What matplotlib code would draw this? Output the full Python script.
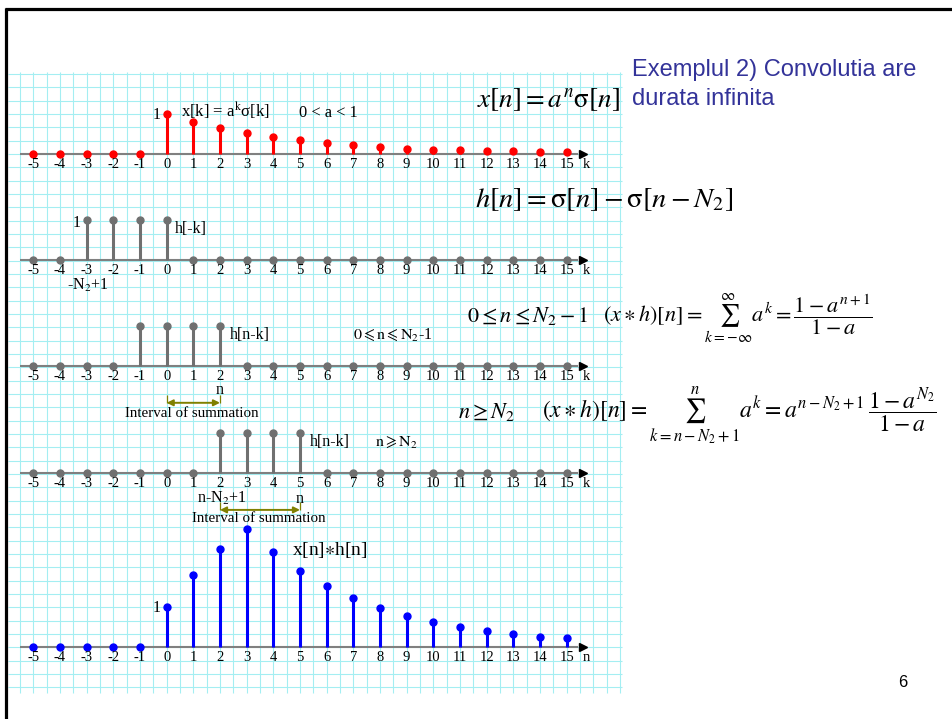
"""Slide: convolution of a^n sigma[n] with a rectangular pulse."""

import numpy as np
import matplotlib
matplotlib.use("Agg")
import matplotlib.pyplot as plt

plt.rcParams["mathtext.fontset"] = "stix"

W, H = 953, 719

# data -----------------------------------------------------------------
K = np.arange(-5, 16)
x_vals = [0, 0, 0, 0, 0, 1.0, 0.8, 0.65, 0.52, 0.42, 0.34, 0.28, 0.22,
          0.17, 0.13, 0.11, 0.09, 0.08, 0.07, 0.05, 0.05]
h_rev = [0, 0, 1, 1, 1, 1, 0, 0, 0, 0, 0, 0, 0, 0, 0, 0, 0, 0, 0, 0, 0]
h_n1 = [0, 0, 0, 0, 1, 1, 1, 1, 0, 0, 0, 0, 0, 0, 0, 0, 0, 0, 0, 0, 0]
h_n2 = [0, 0, 0, 0, 0, 0, 0, 1, 1, 1, 1, 0, 0, 0, 0, 0, 0, 0, 0, 0, 0]
y_vals = [0, 0, 0, 0, 0, 1.0, 1.8, 2.44, 2.95, 2.36, 1.89, 1.51, 1.21,
          0.96, 0.77, 0.63, 0.5, 0.4, 0.32, 0.25, 0.22]
tick_labels = [str(k) for k in K]

RED = "#ff0000"
GRAY = "#707070"
BLUE = "#0000ff"
OLIVE = "#808000"
GRID = "#a4eef2"
SERIF = "Liberation Serif"
SANS = "Liberation Sans"

fig = plt.figure(figsize=(W / 100, H / 100), dpi=100)
fig.patch.set_facecolor("white")


def fx(x):
    return x / W


def fy(y):
    return 1 - y / H


def put(x, y, s, **kw):
    kw.setdefault("family", SERIF)
    kw.setdefault("fontsize", 11.5)
    kw.setdefault("va", "baseline")
    fig.text(fx(x), fy(y), s, **kw)


# background grid + slide frame
bg = fig.add_axes([0, 0, 1, 1])
bg.set_xlim(0, W)
bg.set_ylim(H, 0)
bg.axis("off")
cell = 40 / 3
bg.vlines(20 + cell * np.arange(46), 72, 693, color=GRID, lw=0.8)
bg.hlines(74 + cell * np.arange(47), 8, 622, color=GRID, lw=0.8)
bg.plot([6.5, 6.5], [7.5, H], color="black", lw=2.3, solid_capstyle="butt")
bg.plot([5, W], [9, 9], color="black", lw=2.3, solid_capstyle="butt")


def panel(y0, vals, color, last="k"):
    ax = fig.add_axes([fx(20), fy(y0 + 40), 600 / W, 200 / H])
    ax.set_xlim(-5.5, 17.0)
    ax.set_ylim(-1, 4)
    ax.axis("off")
    ax.patch.set_alpha(0)
    ax.plot([-5.5, 15.4], [0, 0], color="#808080", lw=1.5, zorder=1)
    ax.plot([15.63], [0], marker=">", color="black", ms=6, zorder=4)
    ml, sl, bl = ax.stem(K, vals, basefmt=" ")
    plt.setp(sl, color=color, linewidth=2.2, zorder=2)
    plt.setp(ml, color=color, markersize=5, zorder=3)
    bl.set_visible(False)
    for k, lab in zip(K, tick_labels):
        ax.text(k, -14.3 / 40, lab, ha="center", va="baseline",
                family=SERIF, fontsize=10.5)
    ax.text(15.6, -14.3 / 40, last, ha="left", va="baseline",
            family=SERIF, fontsize=10.5)
    return ax


def interval(ax, k0, k1, yv):
    ax.annotate("", xy=(k1, yv), xytext=(k0, yv),
                arrowprops=dict(arrowstyle="<|-|>", color=OLIVE, lw=1.4,
                                shrinkA=0, shrinkB=0, mutation_scale=9))
    ax.vlines([k0, k1], yv, -0.73, color=OLIVE, lw=0.9)


# panel 1: x[k]
panel(154, x_vals, RED)
put(156.7, 119, "1", ha="center")
put(181, 116.7, r"x[k] = a$^{\mathrm{k}}$σ[k]", fontsize=12)
put(299, 116.7, "0 < a < 1", fontsize=11.8)

# panel 2: h[-k]
panel(260, h_rev, GRAY)
put(76.7, 226.7, "1", ha="center")
put(175, 233.3, "h[-k]")
put(67, 289.5, r"-N$_2$+1")

# panel 3: h[n-k], small n
ax3 = panel(366, h_n1, GRAY)
put(230, 339, "h[n-k]")
put(353, 339, r"$\mathrm{0\leqslant n\leqslant N_2}$-1")
put(220, 394.3, "n", ha="center")
interval(ax3, 0, 2, -0.92)
put(191.7, 416.7, "Interval of summation", ha="center", fontsize=10.8)

# panel 4: h[n-k], large n
ax4 = panel(472.7, h_n2, GRAY)
put(310, 446, "h[n-k]")
put(375, 446, r"$\mathrm{n\geqslant N_2}$")
put(222, 502.7, r"n-N$_2$+1", ha="center")
put(300, 502.7, "n", ha="center")
interval(ax4, 2, 5, -0.93)
put(192.3, 521.7, "Interval of summation", fontsize=10.8)

# panel 5: result
panel(646.7, y_vals, BLUE, last="n")
put(157, 611.7, "1", ha="center")
put(292, 555, r"x[n]$\ast$h[n]", fontsize=14)

# equations on the right
put(476.7, 106.7, r"$x[n]=a^{n}\mathrm{\sigma}[n]$", fontsize=19.5)
put(475, 206.7, r"$h[n]=\mathrm{\sigma}[n]-\mathrm{\sigma}[n-N_2]$",
    fontsize=20.5)
put(466.7, 321.7, r"$0\leq n\leq N_2-1$", fontsize=16)
put(603, 321.7,
    r"$(x\ast h)[n]=\sum_{k=-\infty}^{\infty}a^{k}=\dfrac{1-a^{n+1}}{1-a}$",
    fontsize=16)
put(458, 418, r"$n\geq N_2$", fontsize=16)
put(541.7, 418,
    r"$(x\ast h)[n]=\sum_{k=n-N_2+1}^{n}a^{k}=a^{n-N_2+1}\,"
    r"\dfrac{1-a^{N_2}}{1-a}$",
    fontsize=17)

# title and page number
put(631.7, 75.7, "Exemplul 2) Convolutia are", family=SANS, fontsize=17,
    color="#333399")
put(631.7, 105, "durata infinita", family=SANS, fontsize=17,
    color="#333399")
put(903, 686.7, "6", family=SANS, fontsize=12, ha="center")

fig.savefig("out.png", dpi=100, facecolor="white")
